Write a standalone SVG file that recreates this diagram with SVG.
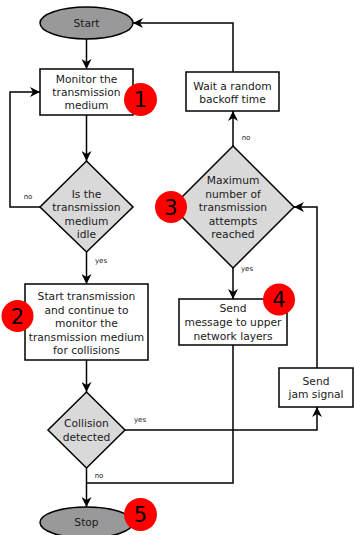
<svg xmlns="http://www.w3.org/2000/svg" width="354" height="535" viewBox="0 0 354 535">
<style>
.term{fill:#999999;stroke:#000;stroke-width:1.5}
.box{fill:#fff;stroke:#000;stroke-width:1.5}
.dec{fill:#d9d9d9;stroke:#000;stroke-width:1.5}
.badge{fill:#ff0000}
text{font-family:"DejaVu Sans",sans-serif;fill:#1a1a1a;text-anchor:middle}
.t{font-size:10.7px}
.s{font-size:7px}
.b{font-size:21px;fill:#000}
.c{fill:none;stroke:#000;stroke-width:1.5}
</style>
<defs>
<marker id="arr" viewBox="0 0 10 10" refX="10" refY="5" markerWidth="10" markerHeight="10" markerUnits="userSpaceOnUse" orient="auto">
<path d="M0,0 L10,5 L0,10 L3,5 z" fill="#000"/>
</marker>
</defs>
<rect width="354" height="535" fill="#fff"/>
<g id="connectors">
<path class="c" d="M86.5,39 V69" marker-end="url(#arr)"/>
<path class="c" d="M86.5,115 V161" marker-end="url(#arr)"/>
<path class="c" d="M40,207 H10 V92 H40" marker-end="url(#arr)"/>
<path class="c" d="M86.5,252 V284" marker-end="url(#arr)"/>
<path class="c" d="M86.5,360 V392" marker-end="url(#arr)"/>
<path class="c" d="M86.5,468 V507" marker-end="url(#arr)"/>
<path class="c" d="M125,430 H317 V407" marker-end="url(#arr)"/>
<path class="c" d="M317,368 V207 H294" marker-end="url(#arr)"/>
<path class="c" d="M233,268 V299" marker-end="url(#arr)"/>
<path class="c" d="M233,146 V111" marker-end="url(#arr)"/>
<path class="c" d="M233,72 V23 H133" marker-end="url(#arr)"/>
<path class="c" d="M233,345 V483 H86.5"/>
<text class="s" x="28" y="199">no</text>
<text class="s" x="101" y="263">yes</text>
<text class="s" x="140" y="422">yes</text>
<text class="s" x="99" y="478">no</text>
<text class="s" x="246" y="140">no</text>
<text class="s" x="247" y="271">yes</text>
</g>
<g id="start">
<ellipse class="term" cx="86.5" cy="23" rx="46.5" ry="16"/>
<text class="t" x="86.5" y="26.8">Start</text>
</g>
<g id="monitor">
<rect class="box" x="40" y="69" width="93" height="46"/>
<text class="t" x="86.5" y="82.8">Monitor the</text>
<text class="t" x="86.5" y="96">transmission</text>
<text class="t" x="86.5" y="109">medium</text>
</g>
<g id="badge1">
<circle class="badge" cx="140.5" cy="99.5" r="16.5"/>
<text class="b" x="140.5" y="107">1</text>
</g>
<g id="idle">
<polygon class="dec" points="86.5,161 133,207 86.5,252 40,207"/>
<text class="t" x="86.5" y="197.5">Is the</text>
<text class="t" x="86.5" y="211">transmission</text>
<text class="t" x="86.5" y="224.5">medium</text>
<text class="t" x="86.5" y="238">idle</text>
</g>
<g id="starttx">
<rect class="box" x="25" y="284" width="123" height="76"/>
<text class="t" x="86.5" y="300">Start transmission</text>
<text class="t" x="86.5" y="313.5">and continue to</text>
<text class="t" x="86.5" y="327">monitor the</text>
<text class="t" x="86.5" y="340.5">transmission medium</text>
<text class="t" x="86.5" y="354">for collisions</text>
</g>
<g id="badge2">
<circle class="badge" cx="17.5" cy="316" r="16"/>
<text class="b" x="17.5" y="323.5">2</text>
</g>
<g id="collision">
<polygon class="dec" points="86.5,392 125,430 86.5,468 48,430"/>
<text class="t" x="86.5" y="427">Collision</text>
<text class="t" x="86.5" y="441">detected</text>
</g>
<g id="stop">
<ellipse class="term" cx="86.5" cy="522.5" rx="46.5" ry="15.5"/>
<text class="t" x="86.5" y="526">Stop</text>
</g>
<g id="badge5">
<circle class="badge" cx="140.5" cy="514.5" r="16.5"/>
<text class="b" x="140.5" y="522">5</text>
</g>
<g id="jam">
<rect class="box" x="279" y="368" width="74" height="39"/>
<text class="t" x="316" y="384.8">Send</text>
<text class="t" x="316" y="398">jam signal</text>
</g>
<g id="maxattempts">
<polygon class="dec" points="233,146 294,207 233,268 172,207"/>
<text class="t" x="233" y="184">Maximum</text>
<text class="t" x="233" y="197.5">number of</text>
<text class="t" x="233" y="211">transmission</text>
<text class="t" x="233" y="224.5">attempts</text>
<text class="t" x="233" y="238">reached</text>
</g>
<g id="badge3">
<circle class="badge" cx="171" cy="207" r="16"/>
<text class="b" x="171" y="214.5">3</text>
</g>
<g id="wait">
<rect class="box" x="186" y="72" width="93" height="39"/>
<text class="t" x="232.5" y="89.8">Wait a random</text>
<text class="t" x="232.5" y="103">backoff time</text>
</g>
<g id="sendmsg">
<rect class="box" x="179" y="299" width="108" height="46"/>
<text class="t" x="233" y="312">Send</text>
<text class="t" x="233" y="326">message to upper</text>
<text class="t" x="233" y="340">network layers</text>
</g>
<g id="badge4">
<circle class="badge" cx="279" cy="299.5" r="16"/>
<text class="b" x="279" y="307">4</text>
</g>
</svg>
